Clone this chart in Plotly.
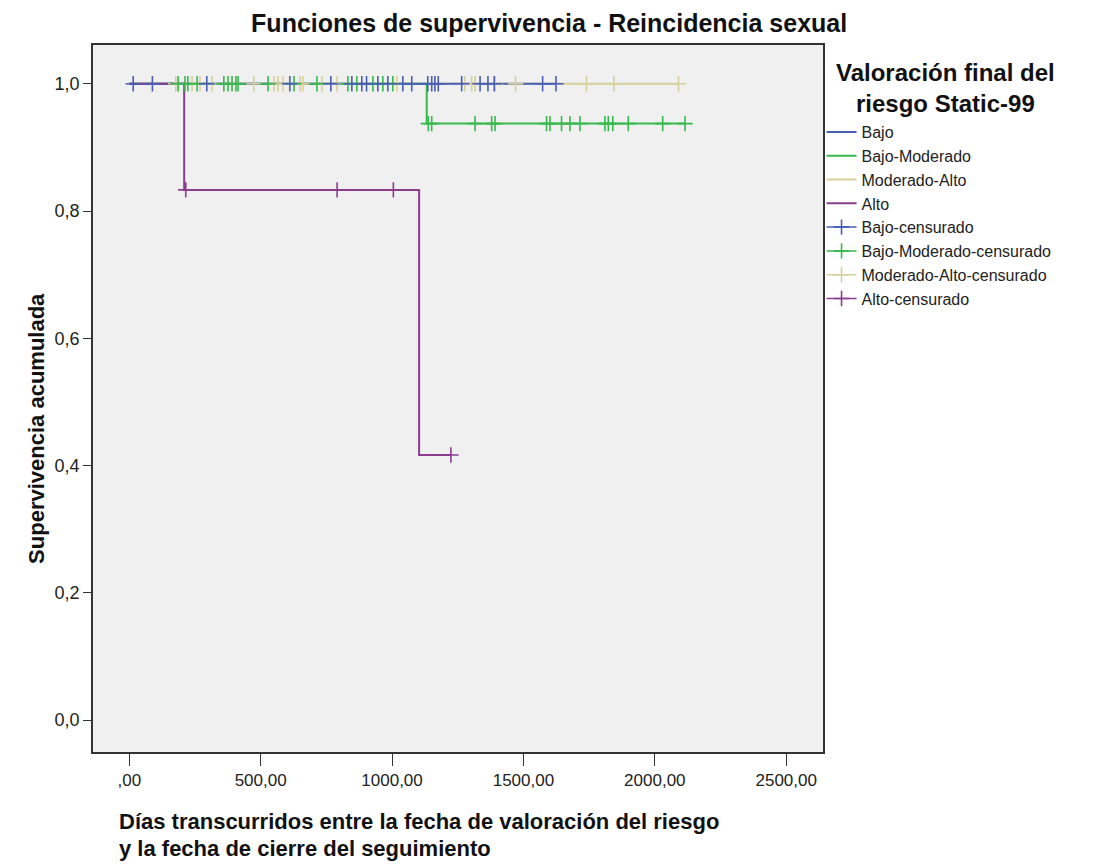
import plotly.graph_objects as go

# curvas de supervivencia (Kaplan-Meier), tiempos en días
bajo_t = [0, 1624]
bajo_s = [1.0, 1.0]
bajo_cens = [15, 88, 295, 611, 767, 847, 885, 903, 946, 984, 1041, 1075, 1136,
             1151, 1163, 1176, 1265, 1335, 1365, 1389, 1573, 1624]

bm_t = [0, 1132, 2115]
bm_s = [1.0, 0.9375, 0.9375]
bm_cens = [186, 212, 223, 258, 360, 376, 391, 406, 414, 528, 627, 714, 832, 866,
           927, 965, 1003, 1138, 1151, 1316, 1379, 1392, 1588, 1601, 1645, 1677,
           1715, 1810, 1823, 1840, 1899, 2030, 2115]

ma_t = [0, 2090]
ma_s = [1.0, 1.0]
ma_cens = [177, 239, 269, 315, 474, 551, 566, 585, 650, 661, 733, 790, 1018,
           1277, 1303, 1316, 1392, 1470, 1740, 1844, 2090]

alto_t = [0, 209, 1103, 1224]
alto_s = [1.0, 0.8333, 0.4167, 0.4167]
alto_cens = [215, 791, 1005, 1224]

x_ticks = [0, 500, 1000, 1500, 2000, 2500]
x_labels = [",00", "500,00", "1000,00", "1500,00", "2000,00", "2500,00"]
y_ticks = [0, 0.2, 0.4, 0.6, 0.8, 1.0]
y_labels = ["0,0", "0,2", "0,4", "0,6", "0,8", "1,0"]

groups = [
    ("Bajo", bajo_t, bajo_s, bajo_cens, "#4a5fb3"),
    ("Bajo-Moderado", bm_t, bm_s, bm_cens, "#38b94e"),
    ("Moderado-Alto", ma_t, ma_s, ma_cens, "#d6d09c"),
    ("Alto", alto_t, alto_s, alto_cens, "#8c3c8e"),
]


def surv_at(t, times, surv):
    s = surv[0]
    for ti, si in zip(times, surv):
        if ti <= t:
            s = si
    return s


FONT = "Liberation Sans, Arial, sans-serif"

fig = go.Figure()
draw_order = [2, 1, 0, 3]  # crema debajo, morado encima
for i in draw_order:
    name, t, s, cens, col = groups[i]
    fig.add_trace(go.Scatter(x=t, y=s, mode="lines", line_shape="hv",
                             line=dict(color=col, width=2), name=name,
                             legendrank=i + 1, legendgroup=name))
for i in draw_order:
    name, t, s, cens, col = groups[i]
    xs, ys = [], []
    for c in cens:
        xs += [c, None]
        ys += [surv_at(c, t, s), None]
    fig.add_trace(go.Scatter(x=xs, y=ys, mode="lines+markers", connectgaps=False,
                             line=dict(color=col, width=1.5),
                             marker=dict(symbol="cross-thin", size=11,
                                         line=dict(color=col, width=1.6)),
                             name=name + "-censurado", legendrank=i + 5,
                             legendgroup=name + "c"))

# la página tiene 8px de margen en el body: la figura se reduce en consecuencia
fig.update_layout(
    width=1091, height=856,
    margin=dict(l=85, r=276, t=37, b=112),
    paper_bgcolor="white", plot_bgcolor="#f0f0f0",
    font=dict(family=FONT, color="#222"),
    title=dict(text="<b>Funciones de supervivencia - Reincidencia sexual</b>",
               x=0.496, xanchor="center", y=0.9825, yanchor="middle",
               font=dict(size=25, color="#111")),
    showlegend=True,
    legend=dict(x=0.998, xanchor="left", y=0.901, yanchor="top",
                font=dict(size=16, color="#222"), tracegroupgap=0,
                itemwidth=30, bgcolor="rgba(0,0,0,0)"),
)
fig.update_xaxes(range=[-138, 2640], tickvals=x_ticks, ticktext=x_labels,
                 showgrid=False, zeroline=False, showline=True, mirror=True,
                 linecolor="#333", linewidth=1.5, ticks="outside", ticklen=12,
                 tickcolor="#333", tickfont=dict(size=17, color="#222"))
fig.update_yaxes(range=[-0.050, 1.061], tickvals=y_ticks, ticktext=y_labels,
                 showgrid=False, zeroline=False, showline=True, mirror=True,
                 linecolor="#333", linewidth=1.5, ticks="outside", ticklen=8,
                 tickcolor="#333", tickfont=dict(size=18, color="#222"))

fig.add_annotation(text="<b>Supervivencia acumulada</b>", textangle=-90,
                   xref="paper", yref="paper", x=-0.097, y=0.458,
                   showarrow=False, font=dict(size=22, color="#111"))
fig.add_annotation(text="<b>Días transcurridos entre la fecha de valoración del riesgo</b>",
                   xref="paper", yref="paper", x=0.033, y=-0.099, xanchor="left",
                   yanchor="middle", showarrow=False,
                   font=dict(size=22, color="#111"))
fig.add_annotation(text="<b>y la fecha de cierre del seguimiento</b>",
                   xref="paper", yref="paper", x=0.033, y=-0.137, xanchor="left",
                   yanchor="middle", showarrow=False,
                   font=dict(size=22, color="#111"))
fig.add_annotation(text="<b>Valoración final del<br>riesgo Static-99</b>",
                   xref="paper", yref="paper", x=1.168, y=0.939, xanchor="center",
                   yanchor="middle", showarrow=False, align="center",
                   font=dict(size=24, color="#111"))

fig.write_html("out.html")
